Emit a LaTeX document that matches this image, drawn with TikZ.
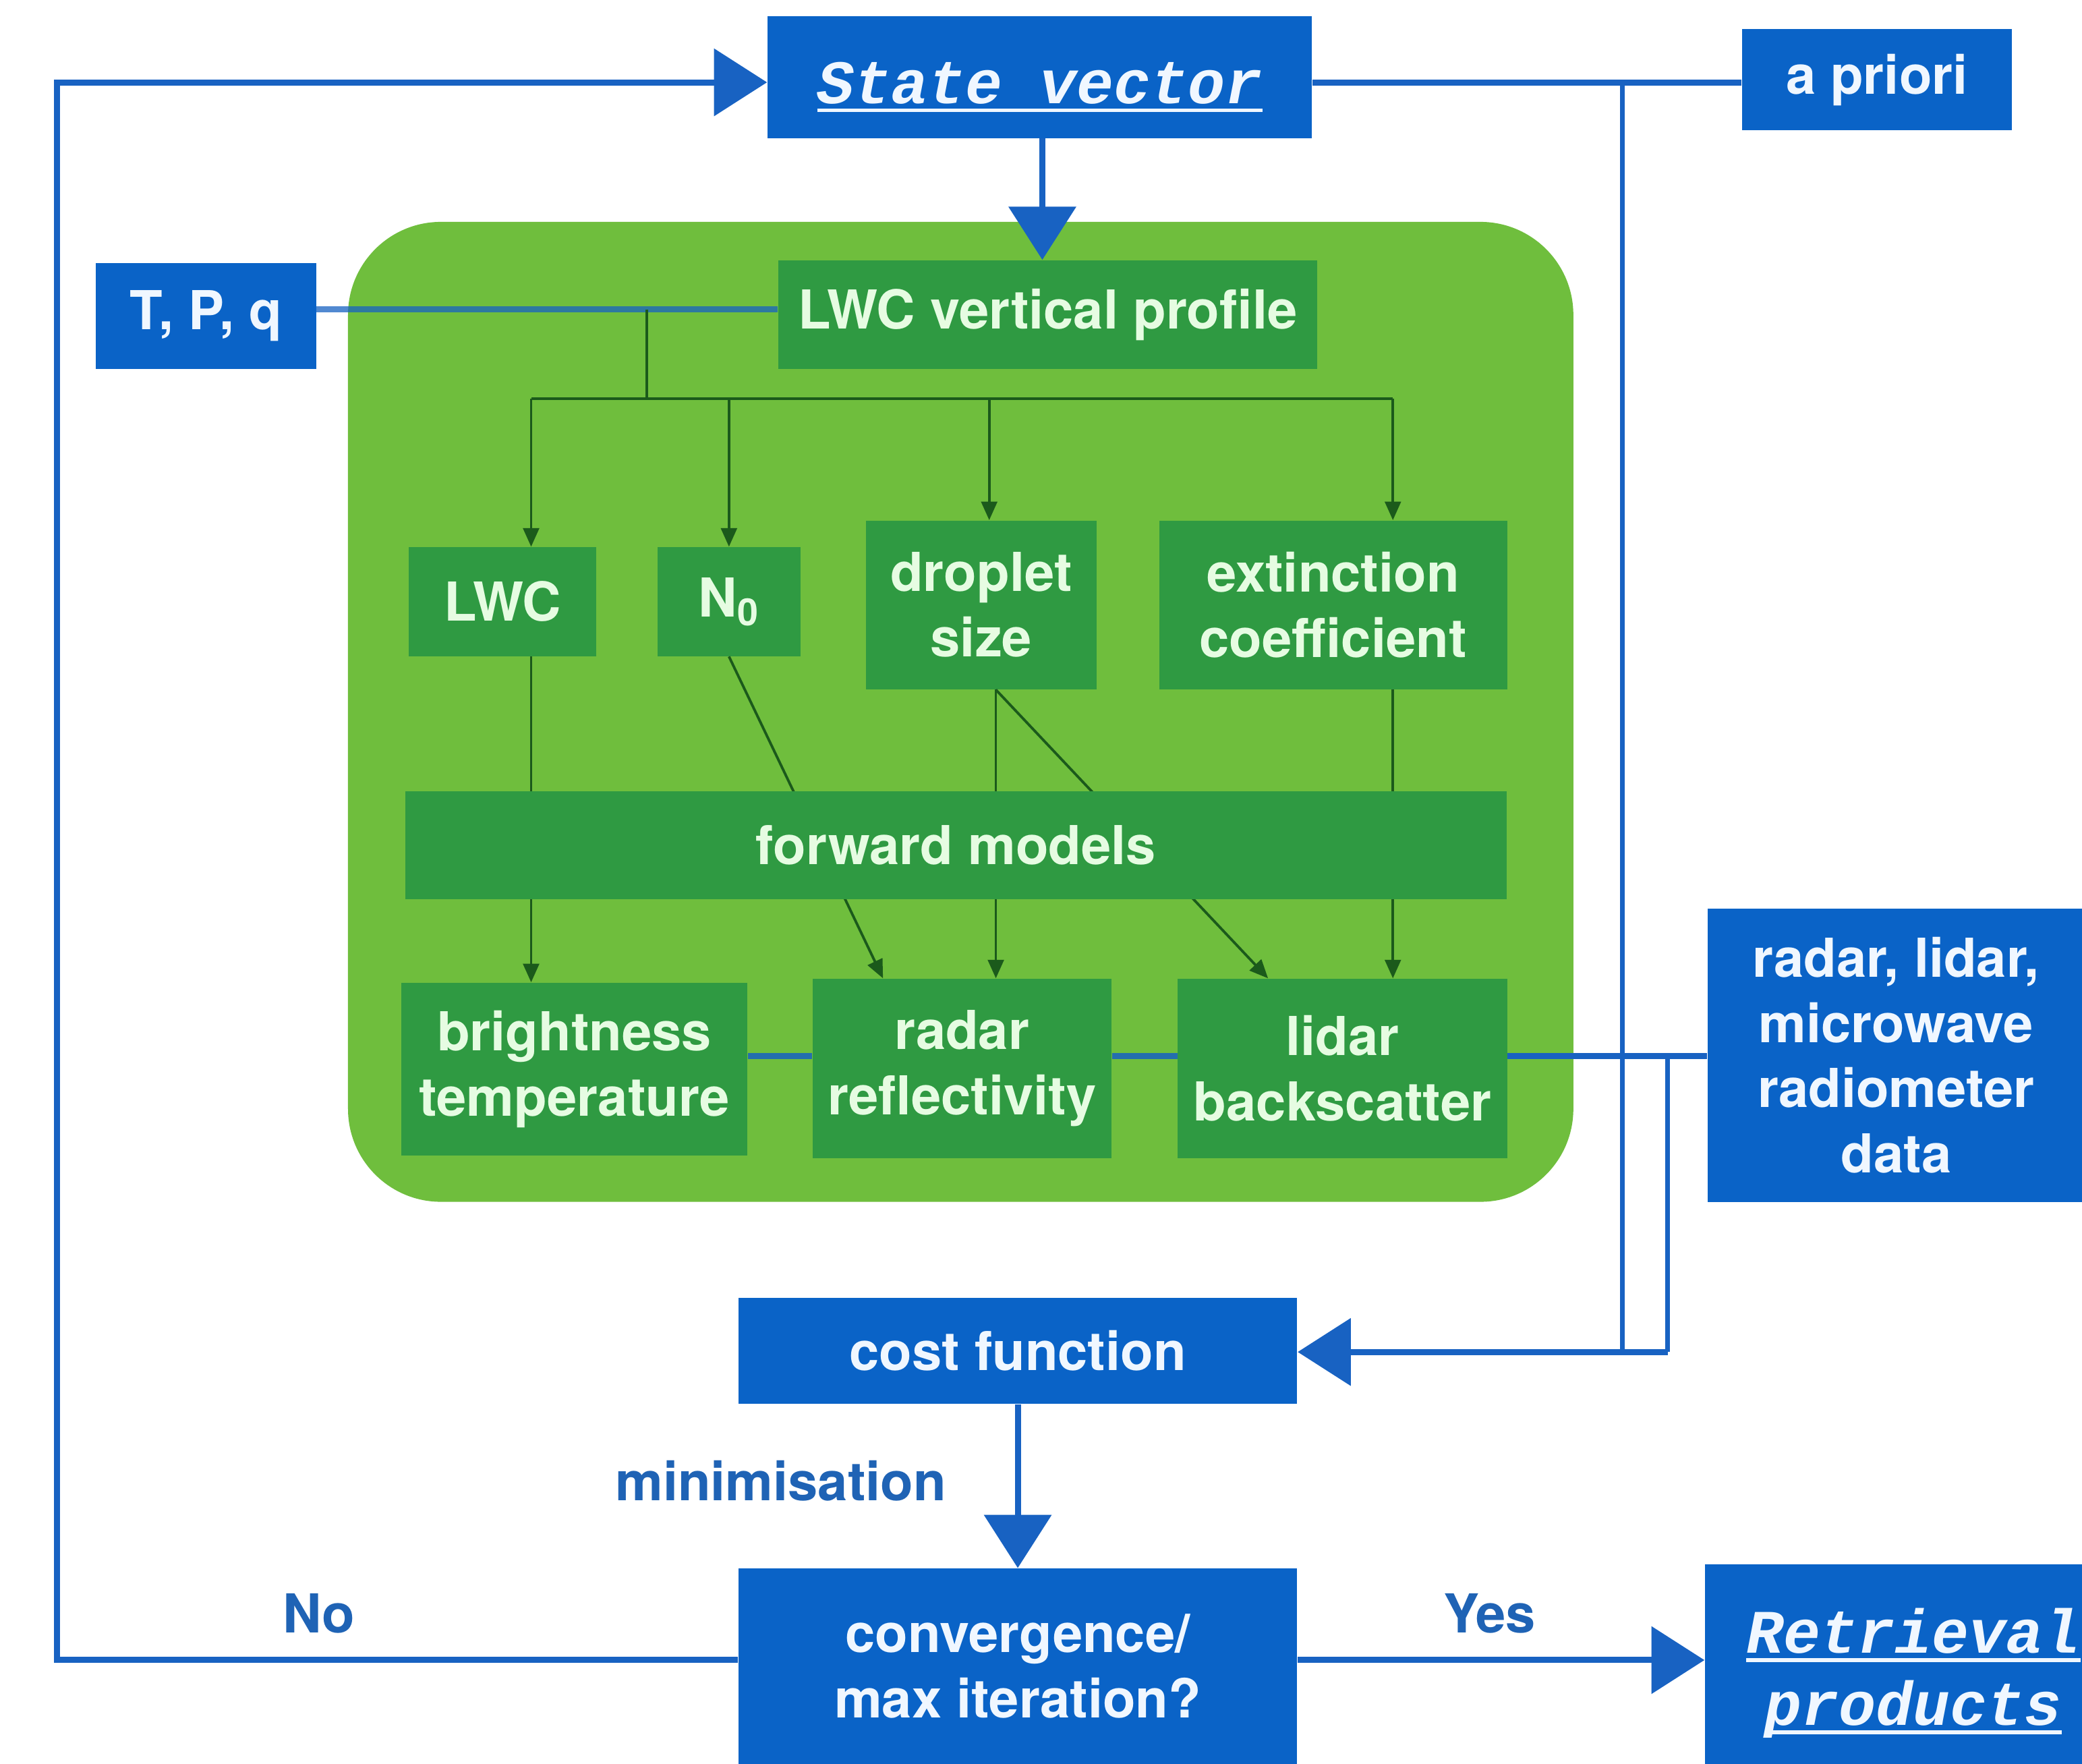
\documentclass[tikz,border=0pt]{standalone}
\usepackage{fontspec}
\setmainfont{TeX Gyre Heros}
\newfontfamily\monof{Liberation Mono}
\usetikzlibrary{arrows.meta}
\definecolor{bbox}{HTML}{0A63C7}
\definecolor{gouter}{HTML}{6FBE3D}
\definecolor{ginner}{HTML}{2F9A42}
\definecolor{gline}{HTML}{1B5A1B}
\definecolor{bline}{HTML}{1862C2}
\definecolor{gtext}{HTML}{E6FCE2}
\definecolor{btext}{HTML}{F0F7FF}
\definecolor{lbl}{HTML}{1F63B5}
\newcommand\myul[1]{\setbox0\hbox{#1}\leavevmode\rlap{\raisebox{-0.13cm}{\rule{\wd0}{1.6pt}}}\box0}
\newcommand\monotxt{\monof\fontsize{26.5}{31}\selectfont\bfseries\itshape}
\tikzset{
  basebox/.style={rectangle, inner sep=0pt, align=center,
    font=\bfseries\fontsize{23}{28}\selectfont},
  bluebox/.style={basebox, fill=bbox, text=btext},
  greenbox/.style={basebox, fill=ginner, text=gtext},
  bluelink/.style={draw=bline, line width=2.6pt},
  thinblue/.style={draw=bline, line width=2pt},
  bigarrow/.style={bluelink, -{Triangle[length=0.8cm,width=1cm]}},
  glink/.style={draw=gline, line width=1.1pt},
  garrow/.style={glink, -{Triangle[length=0.28cm,width=0.24cm]}},
  lbltext/.style={text=lbl, font=\bfseries\fontsize{23}{28}\selectfont},
}
\begin{document}
\begin{tikzpicture}[x=0.02cm, y=-0.02cm]
\useasboundingbox (0,0) rectangle (1568,1328);
\fill[white] (0,0) rectangle (1568,1328);

% outer green container
\node[rectangle, fill=gouter, rounded corners=1.4cm, minimum width=18.46cm, minimum height=14.76cm, inner sep=0pt] (model) at (723.5,536) {};

% top boxes
\node[bluebox, minimum width=8.2cm, minimum height=1.84cm] (sv) at (783,58) {\smash{\raisebox{-0.4cm}{\monotxt\myul{State vector}}}};
\node[bluebox, minimum width=4.06cm, minimum height=1.52cm] (apriori) at (1413.5,60) {a priori};
\node[bluebox, minimum width=3.32cm, minimum height=1.6cm] (tpq) at (155,238) {T, P, q};
\node[greenbox, minimum width=8.12cm, minimum height=1.64cm] (lvp) at (789,237) {LWC vertical profile};

% middle boxes
\node[greenbox, minimum width=2.82cm, minimum height=1.64cm] (lwc) at (378.5,453) {LWC};
\node[greenbox, minimum width=2.16cm, minimum height=1.64cm] (n0) at (549,453) {N\textsubscript{0}};
\node[greenbox, minimum width=3.48cm, minimum height=2.54cm] (drop) at (739,455.5) {droplet\\size};
\node[greenbox, minimum width=5.24cm, minimum height=2.54cm] (ext) at (1004,455.5) {extinction\\coefficient};

% bottom boxes
\node[greenbox, minimum width=5.22cm, minimum height=2.6cm] (bt) at (432.5,805) {brightness\\temperature};
\node[greenbox, minimum width=4.5cm, minimum height=2.7cm] (rr) at (724.5,804.5) {radar\\reflectivity};
\node[greenbox, minimum width=4.96cm, minimum height=2.7cm] (lb) at (1011,804.5) {lidar\\backscatter};

% helper coordinates
\coordinate (jx) at (487,300);
\coordinate (a1) at (400,300);
\coordinate (a2) at (549,300);
\coordinate (a3) at (745,300);
\coordinate (a4) at (1049,300);
\coordinate (s1) at (400,0);
\coordinate (s2) at (665,0);
\coordinate (s3) at (750,0);
\coordinate (s4) at (955,0);
\coordinate (s5) at (1049,0);
\coordinate (ty) at (0,233);

% T,P,q -> profile line
\draw[bluelink, draw opacity=0.75] (tpq.east |- ty) -- (lvp.west |- ty);
\draw[glink] (jx |- ty) -- (jx);
\draw[glink] (a1) -- (a4);
\draw[garrow] (a1) -- (a1 |- lwc.north);
\draw[garrow] (a2) -- (a2 |- n0.north);
\draw[garrow] (a3) -- (a3 |- drop.north);
\draw[garrow] (a4) -- (a4 |- ext.north);

% through forward models
\draw[garrow] (s1 |- lwc.south) -- (s1 |- bt.north);
\draw[garrow] (n0.south) -- (s2 |- rr.north);
\draw[garrow] (s3 |- drop.south) -- (s3 |- rr.north);
\draw[garrow] (s3 |- drop.south) -- (s4 |- lb.north);
\draw[garrow] (s5 |- ext.south) -- (s5 |- lb.north);

\node[greenbox, minimum width=16.6cm, minimum height=1.62cm] (fwd) at (720,636.5) {forward models};

% right-hand boxes
\node[bluebox, minimum width=5.68cm, minimum height=4.42cm] (data) at (1428,794.5) {radar, lidar,\\microwave\\radiometer\\data};
\node[bluebox, minimum width=8.42cm, minimum height=1.6cm] (cost) at (766.5,1017) {cost function};
\node[bluebox, minimum width=8.42cm, minimum height=2.94cm] (conv) at (766.5,1254.5) {convergence/\\max iteration?};
\node[bluebox, minimum width=6.28cm, minimum height=3.28cm] (ret) at (1441,1260) {\monotxt\myul{Retrieval}\\[3pt]\monotxt\myul{products}};

% blue links between simulated observations
\coordinate (hy) at (0,795);
\draw[bluelink, draw opacity=0.85] (bt.east |- hy) -- (rr.west |- hy);
\draw[bluelink, draw opacity=0.85] (rr.east |- hy) -- (lb.west |- hy);
\draw[bluelink] (lb.east |- hy) -- (data.west |- hy);

% right verticals to cost function
\coordinate (v1) at (1222,0);
\coordinate (v2) at (1256,0);
\coordinate (cy) at (0,1018);
\coordinate (topy) at (0,62);
\draw[bluelink] (sv.east |- topy) -- (apriori.west |- topy);
\draw[thinblue] (v1 |- topy) -- (v1 |- cy);
\draw[thinblue] (v2 |- hy) -- (v2 |- cy);
\draw[bigarrow] (v2 |- cy) -- (cost.east |- cy);

% state vector -> model
\coordinate (mx) at (785,0);
\draw[bigarrow] (mx |- sv.south) -- (mx |- lvp.north);
% cost -> convergence
\draw[bigarrow] (cost.south) -- (conv.north);
% convergence -> retrieval
\coordinate (ly) at (0,1250);
\draw[bigarrow] (conv.east |- ly) -- (ret.west |- ly);
% loop back
\coordinate (lx) at (43,0);
\draw[bigarrow] (conv.west |- ly) -- (lx |- ly) -- (lx |- topy) -- (sv.west |- topy);

% labels
\node[lbltext] (lmin) at (588,1115) {minimisation};
\node[lbltext] (lno) at (240,1215) {No};
\node[lbltext] (lyes) at (1122,1215) {Yes};
\end{tikzpicture}
\end{document}
